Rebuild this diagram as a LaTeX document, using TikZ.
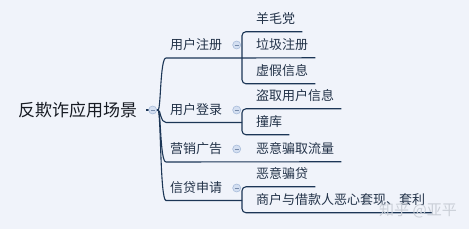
\documentclass[tikz,border=0pt]{standalone}
\usepackage{fontspec}
\setmainfont{Noto Sans CJK SC}
\usetikzlibrary{positioning}
\definecolor{paper}{RGB}{240,243,250}
\definecolor{edge}{RGB}{28,54,86}
\definecolor{ink}{RGB}{34,50,72}
\definecolor{rootink}{RGB}{22,26,34}
\definecolor{foldfill}{RGB}{212,223,241}
\definecolor{foldline}{RGB}{168,188,218}
\definecolor{foldminus}{RGB}{118,138,170}
\definecolor{wmgray}{RGB}{202,207,215}

\begin{document}
\begin{tikzpicture}[
      x=1pt, y=-1pt,
      rootnode/.style={font=\fontsize{17}{20}\selectfont, text=rootink, inner sep=0pt, anchor=west},
      topic/.style={font=\fontsize{13}{15}\selectfont, text=ink, inner xsep=7pt, inner ysep=6.5pt, anchor=west},
      leaf/.style={font=\fontsize{13}{15}\selectfont, text=ink, inner xsep=7pt, inner ysep=6.5pt, anchor=west},
      fold/.style={circle, draw=foldline, fill=foldfill, line width=0.6pt, minimum size=8pt, inner sep=0pt,
        path picture={\draw[foldminus, line width=0.7pt] ([xshift=-2.2pt]path picture bounding box.center) -- ([xshift=2.2pt]path picture bounding box.center);}},
      branch/.style={draw=edge, line width=1.1pt, rounded corners=4pt},
      watermark/.style={font=\fontsize{15}{18}\selectfont, text=wmgray, inner sep=0pt}
  ]
    \fill[paper] (0,0) rectangle (469,229);
    \useasboundingbox (0,0) rectangle (469,229);

    % central topic
    \node[rootnode] (root) at (18,110) {反欺诈应用场景};
    \coordinate (hub) at (158,110);

    % main branches
    \node[topic] (reg) at (163,45) {用户注册};
    \node[topic] (login) at (163,110) {用户登录};
    \node[topic] (ad) at (163,149) {营销广告};
    \node[topic] (loan) at (163,188) {信贷申请};

    % leaves
    \node[leaf] (yang) at (249,19) {羊毛党};
    \node[leaf] (trash) at (249,45) {垃圾注册};
    \node[leaf] (fake) at (249,71) {虚假信息};
    \node[leaf] (steal) at (249,96) {盗取用户信息};
    \node[leaf] (crash) at (249,122) {撞库};
    \node[leaf] (traffic) at (249,149) {恶意骗取流量};
    \node[leaf] (cheat) at (249,174) {恶意骗贷};
    \node[leaf] (cashout) at (249,200) {商户与借款人恶心套现、套利};

    \coordinate (regb) at (242,58);
    \coordinate (loginb) at (242,122.5);
    \coordinate (loanb) at (242,200.5);

    % trunk
    \draw[branch] ([xshift=9pt]root.east) -- (hub);
    \draw[branch] (hub) .. controls (161,110) and (160,58) .. (170,58) -- (regb);
    \draw[branch] (hub) .. controls (161,110) and (160,122.5) .. (170,122.5) -- (loginb);
    \draw[branch] (hub) .. controls (161,110) and (160,162) .. (170,162) -- (traffic.south east);
    \draw[branch] (hub) .. controls (161,110) and (160,200.5) .. (170,200.5) -- (loanb);

    % brackets
    \draw[branch] (yang.south east) -| (regb) |- (fake.south east);
    \draw[branch] (regb) -- (trash.south east);
    \draw[branch] (steal.south east) -| (loginb) |- (crash.south east);
    \draw[branch] (cheat.south east) -| (loanb) |- (cashout.south east);

    % collapse buttons
    \node[fold, right=11pt of root] (rootfold) {};
    \node[fold, right=3pt of reg] (regfold) {};
    \node[fold, right=3pt of login] (loginfold) {};
    \node[fold, right=3pt of ad] (adfold) {};
    \node[fold, right=3pt of loan] (loanfold) {};

    \node[watermark] (wm) at (418,210) {知乎 @亚平};
  \end{tikzpicture}
\end{document}
